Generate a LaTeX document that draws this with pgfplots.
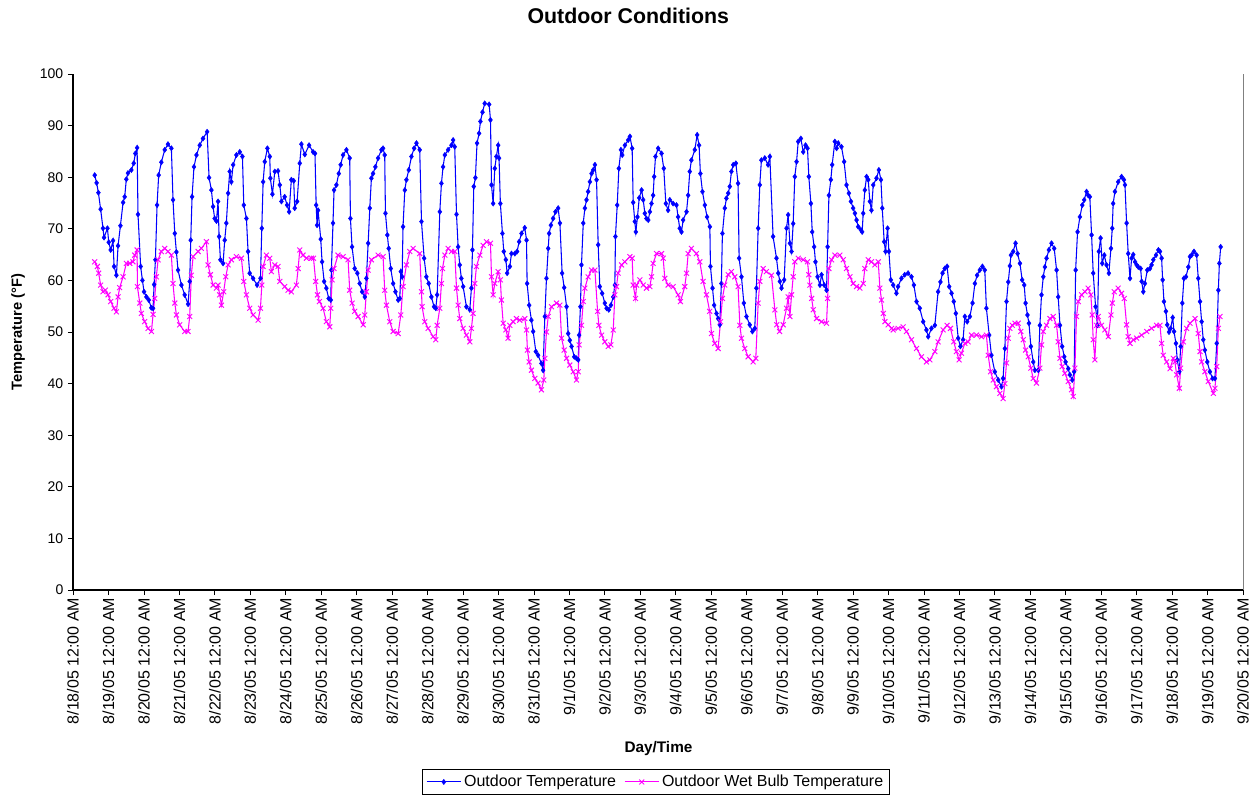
\documentclass[border=0pt]{standalone}
\usepackage{pgfplots}
\usepackage{pgfplotstable}
\pgfplotsset{compat=1.18}
\usepackage{fontspec}
\setmainfont{Liberation Sans}
\definecolor{xlblue}{RGB}{0,0,255}
\definecolor{xlmag}{RGB}{255,0,255}

\pgfplotstableread{
h T
14.7 80.4
16.0 78.9
17.2 77.0
18.7 73.8
20.3 70.1
21.0 68.3
23.3 70.1
24.2 67.4
25.5 65.9
27.1 67.7
27.8 62.7
29.4 61.0
30.5 66.7
32.1 70.6
33.9 75.1
35.0 76.2
36.1 79.6
37.2 80.8
39.5 81.4
41.1 82.7
42.2 84.6
43.4 85.7
44.0 72.8
45.8 62.7
47.0 60.0
48.1 57.8
49.7 56.8
51.3 56.2
53.0 54.7
54.2 54.6
54.9 59.2
55.8 64.0
56.9 74.6
58.0 80.4
59.8 82.9
62.1 85.3
64.3 86.4
66.6 85.6
67.7 75.6
68.9 69.1
70.0 65.5
71.1 62.0
73.4 59.1
75.6 57.2
77.9 55.4
79.0 59.8
79.7 67.8
80.6 76.2
81.9 82.0
83.6 84.3
85.8 86.2
88.0 87.5
90.8 88.8
92.1 79.9
93.7 77.5
94.8 74.3
95.9 72.0
97.1 71.5
98.2 75.3
98.9 68.5
99.8 64.0
101.6 63.3
102.7 67.8
103.8 71.1
105.0 76.9
106.1 81.1
107.2 79.1
108.4 82.4
110.6 84.3
112.9 84.9
114.7 84.0
115.6 74.6
117.4 72.0
118.5 65.6
119.6 61.4
121.9 60.4
124.6 59.1
126.9 60.4
127.8 70.1
128.7 79.1
129.8 83.0
131.6 85.6
133.2 84.0
133.6 79.8
135.0 76.7
136.6 81.1
138.8 81.2
140.0 78.5
141.1 75.3
143.3 76.2
144.9 74.6
146.3 73.3
147.8 79.5
149.4 79.3
150.1 74.0
151.7 75.3
153.5 82.7
154.6 86.4
156.9 84.4
159.8 86.2
162.5 84.9
163.8 84.6
164.6 74.6
165.2 70.7
165.9 73.6
167.7 68.0
168.6 63.6
170.0 59.8
171.5 58.5
173.1 56.5
174.5 56.2
174.9 62.0
176.0 71.1
176.7 77.5
178.3 78.5
179.9 80.7
181.2 82.4
182.8 84.3
185.1 85.3
187.3 83.7
187.8 72.0
188.9 66.5
190.7 62.3
192.5 61.4
194.1 59.4
195.7 57.8
197.5 56.8
198.6 60.4
199.8 67.2
200.9 74.0
202.0 79.8
203.1 80.7
204.7 82.0
206.5 83.7
208.8 85.3
209.9 85.6
211.0 84.3
211.5 73.0
212.8 68.8
213.7 66.2
215.1 62.3
216.7 59.4
218.3 57.8
220.1 56.2
221.2 56.5
221.9 61.7
222.8 60.7
223.4 70.4
224.6 77.5
225.7 79.5
227.3 81.4
229.1 84.0
230.9 85.6
232.5 86.6
234.7 85.3
235.9 71.4
237.7 64.3
239.2 60.7
240.8 59.4
242.6 56.8
244.4 54.9
245.6 54.6
246.5 57.2
248.3 73.3
249.4 78.8
250.5 82.0
251.7 84.3
253.9 85.3
256.2 86.2
257.3 87.2
258.4 85.9
259.6 72.8
260.7 66.5
261.8 63.0
262.9 60.4
264.1 58.8
266.3 54.9
268.6 54.3
269.7 58.5
270.4 65.9
271.3 78.2
272.4 79.9
273.5 86.6
274.9 88.5
275.8 90.8
277.2 92.6
278.7 94.3
281.7 94.1
282.6 91.1
283.3 78.5
284.4 74.9
285.5 81.7
286.6 84.0
287.8 86.2
288.4 83.7
289.3 74.9
290.7 69.1
291.6 65.6
293.0 64.0
293.9 61.4
295.7 62.7
296.8 65.2
299.1 65.2
300.6 65.6
302.0 67.5
303.6 69.1
305.8 70.2
307.0 67.8
307.4 59.4
308.8 55.2
310.3 52.3
311.5 50.1
313.3 46.2
314.8 45.5
317.1 43.9
318.2 42.6
319.4 53.0
320.5 60.4
321.7 66.2
322.3 69.1
323.5 70.7
325.0 72.0
326.6 73.3
328.4 74.0
329.6 71.1
331.1 61.4
332.5 58.6
334.1 54.9
335.2 49.7
336.3 48.4
337.5 47.2
339.3 45.2
340.8 44.9
342.0 44.6
342.6 49.4
343.5 54.9
344.2 63.0
345.4 71.1
346.5 74.0
347.6 75.6
348.7 77.2
349.9 79.1
351.0 80.7
352.1 81.4
353.3 82.4
354.4 79.5
355.5 66.9
356.6 58.8
358.2 57.5
360.0 55.6
361.2 54.6
362.7 54.3
364.1 55.2
365.7 56.8
366.8 59.1
367.2 68.5
368.4 74.6
369.5 81.7
370.9 85.3
371.8 84.3
373.6 86.2
375.8 87.2
377.0 87.9
378.5 85.6
379.2 75.1
380.3 71.4
381.0 69.4
382.1 72.3
383.3 76.0
384.9 77.5
386.0 75.6
387.1 73.0
388.2 72.0
389.4 71.7
390.5 73.3
391.6 74.9
392.7 76.5
393.4 80.1
394.3 84.0
396.1 85.6
398.4 84.6
399.9 81.7
401.3 74.9
402.8 73.6
404.0 75.6
406.2 74.9
408.5 74.6
409.6 72.3
410.7 70.1
411.9 69.4
413.0 71.7
415.3 73.3
416.4 76.5
417.5 81.1
418.6 83.3
420.9 85.3
422.5 88.2
423.8 86.2
424.7 80.7
426.1 77.2
427.7 74.6
429.2 72.3
431.1 70.4
431.5 62.7
432.9 58.5
434.0 55.2
435.6 53.6
436.7 52.6
437.8 51.4
438.9 59.4
439.6 69.1
441.2 74.0
442.3 75.9
443.5 76.9
444.6 78.2
445.7 81.1
446.9 82.4
448.7 82.7
450.2 78.8
450.9 64.3
452.5 60.7
454.1 55.6
455.9 53.0
458.1 51.4
459.9 50.1
461.5 50.7
462.6 58.5
463.8 70.1
464.9 78.5
466.0 83.3
468.3 83.7
470.5 82.4
471.7 84.0
473.9 68.5
476.2 64.3
477.4 61.4
478.5 59.8
479.6 58.5
481.4 60.1
483.0 70.1
484.1 72.7
485.3 67.2
486.4 65.6
487.5 71.0
488.6 80.1
489.8 83.0
490.9 86.9
492.7 87.5
494.3 84.9
495.9 86.2
497.2 85.6
498.1 80.1
499.5 74.9
500.4 69.4
501.7 66.5
502.6 63.6
504.0 60.7
505.6 59.1
506.7 61.1
508.5 59.1
510.1 58.1
510.8 66.5
511.7 76.5
513.0 79.5
513.9 82.4
515.7 86.9
516.9 85.6
518.0 86.6
520.2 85.9
522.0 83.0
523.6 78.5
525.2 76.9
526.6 75.3
528.1 74.0
529.3 73.0
530.4 71.7
531.5 70.4
533.3 69.8
534.2 69.4
534.9 73.0
536.0 77.5
537.2 80.1
538.3 79.5
539.4 75.3
540.5 73.6
541.7 78.5
543.9 79.8
545.5 81.4
546.9 79.5
547.8 74.0
549.1 67.5
550.0 65.6
551.4 70.1
552.3 65.6
553.6 60.1
555.2 59.1
557.4 57.5
558.5 58.8
560.8 60.4
563.0 61.1
565.3 61.4
567.6 60.7
569.2 59.1
571.0 55.9
573.2 54.6
575.5 52.0
577.7 50.4
578.9 49.1
581.1 50.7
583.4 51.3
585.6 57.8
587.2 59.7
588.6 61.4
590.1 62.3
591.7 62.7
593.1 58.8
594.7 57.5
596.2 55.9
597.6 53.6
599.2 48.8
600.7 47.2
602.5 48.5
603.7 53.0
605.3 52.0
607.1 53.0
608.9 55.6
610.5 59.4
612.0 61.0
613.8 62.0
615.6 62.7
617.2 62.0
618.3 54.6
620.2 49.4
621.7 45.5
624.0 42.3
626.3 40.7
628.5 39.4
629.6 41.0
630.8 46.8
631.9 55.9
633.1 59.7
634.2 62.8
634.9 64.9
636.4 65.6
638.0 67.2
639.4 65.2
641.0 63.3
642.5 60.1
643.9 59.1
644.8 55.6
646.1 53.3
647.1 51.7
648.4 47.2
650.0 44.2
651.1 42.6
653.4 42.6
654.5 51.3
655.6 57.2
656.8 60.7
657.9 62.6
659.0 64.3
660.6 65.9
662.4 67.2
664.2 66.2
665.8 62.0
666.9 56.8
668.1 51.3
669.6 47.2
671.0 45.2
671.9 44.2
673.7 42.9
674.8 41.7
676.4 40.7
677.7 42.3
678.7 62.0
680.0 69.4
681.6 72.3
683.2 74.6
684.5 75.6
686.1 77.2
687.2 76.5
688.3 76.2
689.5 68.8
690.6 61.4
692.2 54.9
693.5 51.3
694.4 65.6
695.6 68.2
696.7 63.3
698.1 64.9
699.6 63.0
701.2 61.4
702.6 66.2
703.5 70.1
704.1 74.9
705.3 77.2
707.5 79.1
709.8 80.1
711.4 79.5
712.1 78.5
713.2 71.1
714.3 65.2
715.5 60.4
716.6 64.3
717.7 65.0
718.9 63.6
720.0 63.0
721.1 62.6
722.7 62.3
723.4 59.8
724.5 57.8
725.6 59.4
727.2 62.0
729.0 62.3
730.1 63.0
731.3 64.0
733.1 64.9
734.7 65.9
735.8 65.6
736.9 64.3
737.6 60.1
738.5 55.9
739.8 54.0
740.7 51.4
741.9 50.0
743.0 50.7
744.4 52.8
745.3 50.1
746.6 47.8
747.5 44.6
748.9 42.3
749.8 47.2
750.9 55.6
752.0 60.4
753.4 60.7
755.0 62.6
756.1 64.6
757.2 64.9
758.8 65.6
760.6 64.9
761.7 60.4
762.9 55.9
764.0 52.0
765.1 48.5
766.2 46.5
767.8 44.2
769.6 42.3
771.4 41.0
773.0 41.0
774.2 47.8
775.3 58.1
776.0 63.3
776.9 66.5
}\tempdata

\pgfplotstableread{
h W
14.7 63.6
16.5 62.7
17.4 61.4
18.7 59.1
20.3 57.8
21.9 58.1
23.7 57.2
25.5 55.9
27.8 54.6
29.4 53.9
30.5 56.8
31.6 58.6
33.9 60.7
36.1 63.3
38.4 63.3
40.6 63.6
41.8 64.9
43.4 65.9
43.6 58.8
45.2 55.6
46.3 53.6
48.5 52.0
50.8 50.7
53.1 50.1
54.2 53.4
55.3 56.5
56.4 60.7
57.6 64.0
59.8 65.6
62.1 66.2
64.3 65.6
66.6 64.9
67.7 59.4
68.9 55.6
70.0 53.3
72.2 51.4
75.6 50.1
77.9 50.1
79.0 53.0
80.1 61.0
81.3 64.6
84.7 65.6
86.9 66.2
90.3 67.5
91.4 63.0
93.0 61.1
94.8 59.1
97.1 58.5
98.2 59.1
99.3 57.2
100.5 55.2
102.0 57.8
103.4 60.7
105.0 63.0
107.2 64.0
110.6 64.6
114.0 64.3
115.6 59.8
117.4 57.2
119.6 54.6
121.9 53.3
125.3 52.3
126.9 54.6
127.8 59.1
128.7 62.7
130.9 64.9
133.2 64.3
134.3 61.7
136.6 63.0
138.8 62.7
140.0 59.8
143.3 58.8
145.6 58.1
147.8 57.8
151.2 59.1
152.4 62.3
153.5 65.9
155.7 64.9
158.0 64.3
161.4 64.3
162.8 64.3
164.3 59.8
165.5 57.2
166.8 55.9
169.3 54.6
171.5 52.0
173.8 51.0
174.5 54.6
175.4 60.1
176.7 62.3
179.4 64.9
182.8 64.6
186.2 64.0
187.3 58.1
188.9 55.6
190.7 54.0
193.0 53.0
196.4 51.4
197.5 53.3
198.6 57.8
199.8 62.0
202.0 64.0
206.5 64.9
209.9 64.6
211.0 58.1
212.2 55.2
214.4 52.0
216.7 50.1
220.1 49.7
221.9 53.3
223.4 58.8
225.7 63.0
228.0 65.6
230.2 66.2
234.7 65.2
235.9 57.8
236.3 54.9
238.1 52.0
240.4 50.7
243.8 49.1
245.6 48.5
246.5 51.3
248.3 54.6
249.4 59.4
250.1 62.3
251.7 64.9
253.9 66.2
256.2 65.6
258.4 65.6
259.6 58.5
260.7 55.2
261.8 52.6
264.1 50.7
266.3 49.4
268.6 48.1
269.7 50.7
270.8 53.6
272.0 59.4
273.1 62.7
275.4 64.9
277.6 66.8
279.9 67.5
282.6 67.2
283.3 60.7
284.4 57.2
285.5 59.4
287.8 61.7
289.3 60.1
290.0 56.2
291.2 51.7
293.0 50.4
294.5 48.8
295.7 51.3
297.9 52.0
300.2 52.6
302.4 52.3
305.8 52.6
307.0 50.4
307.6 46.5
308.8 44.2
310.3 42.6
312.6 41.0
314.8 40.1
317.1 38.8
318.7 40.7
319.4 44.9
320.5 50.0
321.7 53.0
323.9 54.9
327.3 55.6
329.6 55.2
330.7 48.8
332.5 46.5
334.1 44.9
336.3 43.6
338.6 42.3
340.8 40.7
342.0 42.3
342.6 47.5
344.2 51.3
345.4 55.9
346.5 58.5
348.7 60.7
351.0 62.0
353.3 62.0
355.1 54.0
356.0 51.3
357.8 49.4
360.0 48.1
362.3 47.2
364.1 47.5
365.7 50.4
366.8 57.2
367.9 58.8
369.0 61.4
371.3 63.0
373.6 63.6
377.0 64.6
378.5 64.3
379.2 59.1
380.8 56.5
381.5 59.1
383.7 60.1
386.0 59.1
388.2 58.5
390.5 58.8
391.6 60.7
392.7 63.3
395.0 65.2
398.4 65.2
399.5 64.3
400.6 60.4
402.8 59.1
406.2 58.8
409.6 57.2
411.2 55.9
414.1 58.8
415.3 61.4
416.4 65.2
418.6 66.2
422.0 65.2
424.3 63.6
426.5 59.8
428.8 57.2
431.0 54.0
432.2 49.7
434.4 47.8
436.7 46.8
438.3 52.0
439.6 56.5
441.2 59.1
443.5 61.1
445.7 61.7
448.0 60.7
450.2 58.8
451.4 51.3
452.5 48.8
454.7 46.8
457.0 45.2
460.4 44.2
462.2 44.9
463.8 55.6
464.9 59.8
467.2 62.3
469.4 61.7
472.8 61.0
475.1 54.3
476.4 51.4
478.3 50.1
480.7 51.4
483.0 54.6
484.1 56.8
485.3 53.0
486.4 57.2
487.5 60.7
488.6 63.6
490.9 64.3
494.3 64.0
497.2 63.6
498.1 61.1
498.8 59.1
500.0 56.5
501.1 54.3
503.3 52.6
506.7 52.0
510.1 51.7
510.8 56.5
511.7 62.3
513.5 64.0
515.7 64.9
519.1 64.9
521.4 64.0
523.6 62.3
525.9 60.7
528.1 59.4
530.4 58.8
532.6 58.5
534.9 59.4
536.0 62.3
538.3 64.0
540.5 63.6
542.8 63.0
545.1 63.6
546.2 58.5
547.3 56.2
548.5 53.6
549.6 52.0
551.8 51.4
554.1 50.7
555.2 50.4
558.5 50.7
561.9 51.0
564.2 50.1
567.6 48.5
571.0 46.8
574.3 45.2
577.7 44.2
580.0 44.6
583.4 46.2
585.6 48.1
589.0 50.4
591.7 51.3
594.0 50.7
596.2 48.1
598.0 46.2
599.8 44.6
601.4 45.9
603.7 47.8
605.9 48.1
608.2 49.4
611.6 49.4
615.0 49.1
618.3 49.4
619.5 45.5
621.1 42.3
622.9 40.7
625.1 39.4
627.4 38.1
629.6 37.1
630.8 40.0
631.9 44.0
633.1 48.8
634.2 50.7
635.8 51.3
637.6 51.7
639.8 51.7
641.6 50.1
643.2 48.5
644.8 46.5
646.6 45.2
648.4 43.0
650.0 41.0
652.2 40.1
654.5 43.0
655.6 47.5
656.8 50.1
659.0 51.3
661.3 52.6
663.5 53.0
665.8 51.3
666.9 48.1
668.1 44.9
669.6 43.3
671.4 42.0
673.7 40.4
675.9 38.8
677.1 37.5
678.2 43.0
679.3 53.0
680.5 55.9
682.7 57.2
685.0 57.8
687.2 58.5
689.0 57.2
689.9 53.3
690.6 48.5
691.7 44.6
692.9 51.3
694.0 53.0
696.2 51.3
698.5 50.4
700.8 49.1
702.6 53.3
703.5 55.6
704.8 57.8
707.5 58.5
709.8 57.5
711.6 56.5
713.2 51.4
714.3 49.1
715.5 47.8
717.7 48.5
720.0 48.8
723.4 49.4
726.8 50.1
730.1 50.7
733.5 51.3
735.8 51.3
736.9 47.8
738.0 45.5
740.3 44.2
742.6 42.9
744.8 44.9
745.9 44.2
747.1 41.7
748.9 39.1
749.8 43.0
751.6 48.1
753.8 50.7
756.1 51.7
759.5 52.6
761.7 49.7
762.9 46.2
764.0 44.2
766.2 42.3
768.5 40.4
771.9 38.1
773.0 39.1
774.2 43.3
775.3 50.7
776.4 53.0
}\wetdata

\begin{document}
\begin{tikzpicture}
\useasboundingbox (-54.75pt,-155.25pt) rectangle (887.25pt,442.5pt);
\begin{axis}[
  at={(0,0)}, anchor=south west,
  scale only axis, width=877.5pt, height=387pt,
  xmin=0, xmax=792, ymin=0, ymax=100,
  axis lines=left,
  axis line style={-, black, line width=0.8pt},
  xtick={0,24,...,792},
  ytick={0,10,...,100},
  xticklabels={8/18/05 12:00 AM,8/19/05 12:00 AM,8/20/05 12:00 AM,8/21/05 12:00 AM,8/22/05 12:00 AM,8/23/05 12:00 AM,8/24/05 12:00 AM,8/25/05 12:00 AM,8/26/05 12:00 AM,8/27/05 12:00 AM,8/28/05 12:00 AM,8/29/05 12:00 AM,8/30/05 12:00 AM,8/31/05 12:00 AM,9/1/05 12:00 AM,9/2/05 12:00 AM,9/3/05 12:00 AM,9/4/05 12:00 AM,9/5/05 12:00 AM,9/6/05 12:00 AM,9/7/05 12:00 AM,9/8/05 12:00 AM,9/9/05 12:00 AM,9/10/05 12:00 AM,9/11/05 12:00 AM,9/12/05 12:00 AM,9/13/05 12:00 AM,9/14/05 12:00 AM,9/15/05 12:00 AM,9/16/05 12:00 AM,9/17/05 12:00 AM,9/18/05 12:00 AM,9/19/05 12:00 AM,9/20/05 12:00 AM},
  tick align=outside,
  major tick length=3.75pt,
  tick style={black, line width=0.6pt},
  /pgf/number format/assume math mode=true,
  xticklabel style={rotate=90, anchor=east, font=\fontsize{12}{14}\selectfont, inner sep=2pt},
  yticklabel style={font=\fontsize{10.5}{12}\selectfont},
  title={\fontsize{16}{19}\selectfont\bfseries Outdoor Conditions},
  title style={at={(axis description cs:0.4746,1.0969)}, anchor=center, yshift=0pt},
  xlabel={\fontsize{11.5}{14}\selectfont\bfseries Day/Time},
  xlabel style={at={(axis description cs:0.5004,-0.3081)}, anchor=center, yshift=0pt},
  ylabel={\fontsize{11}{13}\selectfont\bfseries Temperature (°F)},
  ylabel style={at={(axis description cs:-0.047,0.5)}, anchor=center},
  legend columns=2,
  legend style={at={(axis description cs:0.4983,-0.372)}, anchor=center,
    draw=black, line width=0.6pt, font=\fontsize{12}{14}\selectfont,
    inner xsep=3pt, inner ysep=2pt,
    /tikz/every even column/.append style={column sep=4pt}},
  legend image code/.code={\draw[mark repeat=2,mark phase=2,#1] plot coordinates {(0cm,0cm) (0.45cm,0cm) (0.9cm,0cm)};},
  clip=false,
]
\addplot[color=xlblue, line width=0.8pt, mark=diamond*, mark size=2pt, mark options={fill=xlblue, draw=xlblue, line width=0.3pt}] table[x=h, y=T] {\tempdata};
\addlegendentry{Outdoor Temperature}
\addplot[color=xlmag, line width=0.8pt, mark=x, mark size=2.6pt, mark options={line width=0.7pt}] table[x=h, y=W] {\wetdata};
\addlegendentry{Outdoor Wet Bulb Temperature}
\draw[gray, line width=0.6pt] (rel axis cs:1,0) -- (rel axis cs:1,1);
\end{axis}
\end{tikzpicture}
\end{document}
